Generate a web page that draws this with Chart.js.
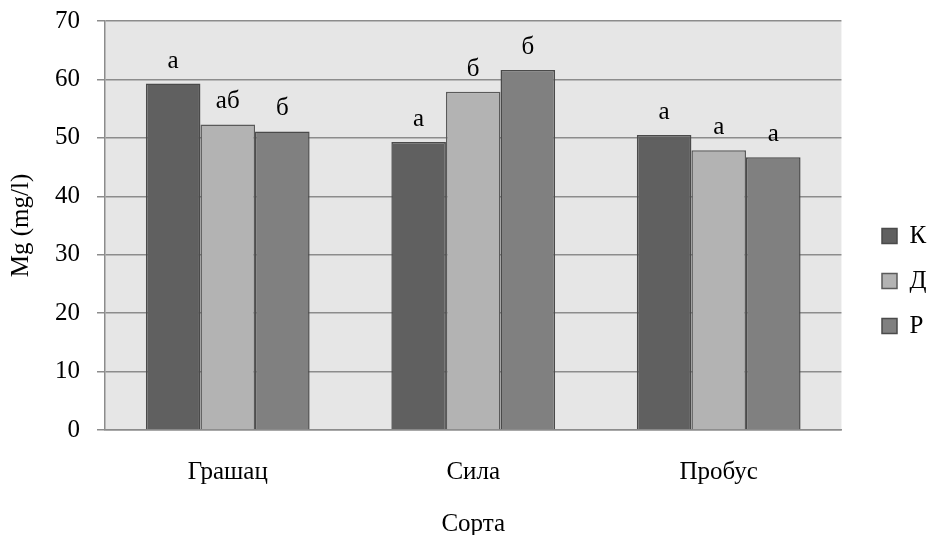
<!DOCTYPE html>
<html>
<head>
<meta charset="utf-8">
<script src="https://cdn.jsdelivr.net/npm/chart.js@4/dist/chart.umd.min.js"></script>
<style>
html,body{margin:0;padding:0;background:#fff;}
#wrap{width:928px;height:535px;}
</style>
</head>
<body>
<div id="wrap"><canvas id="c" width="928" height="535"></canvas></div>
<script>
const categories = ['Грашац', 'Сила', 'Пробус'];
const seriesNames = ['К', 'Д', 'Р'];
const valuesK = [59.3, 49.3, 50.5];
const valuesD = [52.3, 57.9, 47.9];
const valuesR = [51.1, 61.6, 46.7];
const lettersK = ['а', 'а', 'а'];
const lettersD = ['аб', 'б', 'а'];
const lettersR = ['б', 'б', 'а'];
const yTicks = [0, 10, 20, 30, 40, 50, 60, 70];

const FONT = 'Liberation Serif';
const F = 25;

const bgPlugin = {
  id: 'bg',
  beforeDraw(chart) {
    const {ctx, chartArea: a} = chart;
    ctx.save();
    ctx.fillStyle = '#e6e6e6';
    ctx.fillRect(a.left, a.top, a.right - a.left, a.bottom - a.top);
    ctx.restore();
  }
};

const letterPlugin = {
  id: 'letters',
  afterDatasetsDraw(chart) {
    const {ctx} = chart;
    ctx.save();
    ctx.font = F + 'px "' + FONT + '"';
    ctx.fillStyle = '#000';
    ctx.textAlign = 'center';
    ctx.textBaseline = 'alphabetic';
    chart.data.datasets.forEach((ds, i) => {
      const meta = chart.getDatasetMeta(i);
      meta.data.forEach((el, j) => {
        ctx.fillText(ds.letters[j], el.x, el.y - 16);
      });
    });
    ctx.restore();
  }
};

const legendShift = {
  id: 'legendShift',
  afterLayout(chart) {
    const lg = chart.legend;
    if (!lg) return;
    const dx = 882 - (lg.left + lg.options.labels.padding);
    lg.left += dx; lg.right += dx;
    lg.top += 3; lg.bottom += 3;
  }
};

new Chart(document.getElementById('c'), {
  type: 'bar',
  data: {
    labels: categories,
    datasets: [
      {label: seriesNames[0], data: valuesK, letters: lettersK, backgroundColor: '#606060', borderColor: '#4a4a4a', borderWidth: 1.5},
      {label: seriesNames[1], data: valuesD, letters: lettersD, backgroundColor: '#b3b3b3', borderColor: '#5a5a5a', borderWidth: 1.5},
      {label: seriesNames[2], data: valuesR, letters: lettersR, backgroundColor: '#808080', borderColor: '#4a4a4a', borderWidth: 1.5}
    ]
  },
  options: {
    responsive: false,
    animation: false,
    events: [],
    layout: {padding: {top: 21, right: 12, left: 0, bottom: 0}},
    datasets: {bar: {categoryPercentage: 0.667, barPercentage: 1.0}},
    plugins: {
      tooltip: {enabled: false},
      legend: {
        position: 'right',
        align: 'center',
        labels: {
          boxWidth: 15, boxHeight: 15, padding: 20,
          color: '#000',
          font: {family: FONT, size: F}
        }
      }
    },
    scales: {
      x: {
        grid: {display: false, drawTicks: false},
        border: {display: true, color: '#8c8c8c', width: 1.5},
        ticks: {color: '#000', font: {family: FONT, size: F}, padding: 27},
        title: {display: true, text: 'Сорта', color: '#000', font: {family: FONT, size: F}, padding: {top: 0, bottom: -4}},
        afterFit(s) { s.height = 105; s.paddingLeft = 0; s.paddingRight = 0; }
      },
      y: {
        min: 0, max: 70,
        afterBuildTicks(s) { s.ticks = yTicks.map(v => ({value: v})); },
        grid: {color: '#8c8c8c', lineWidth: 1.5, drawTicks: true, tickLength: 8},
        border: {display: true, color: '#8c8c8c', width: 1.5},
        ticks: {color: '#000', font: {family: FONT, size: F}, padding: 17},
        title: {display: true, text: 'Mg (mg/l)', color: '#000', font: {family: FONT, size: F}, padding: {top: 6, bottom: 0}},
        afterFit(s) { s.width = 105; s.paddingTop = 0; s.paddingBottom = 0; }
      }
    }
  },
  plugins: [bgPlugin, letterPlugin, legendShift]
});
</script>
</body>
</html>
